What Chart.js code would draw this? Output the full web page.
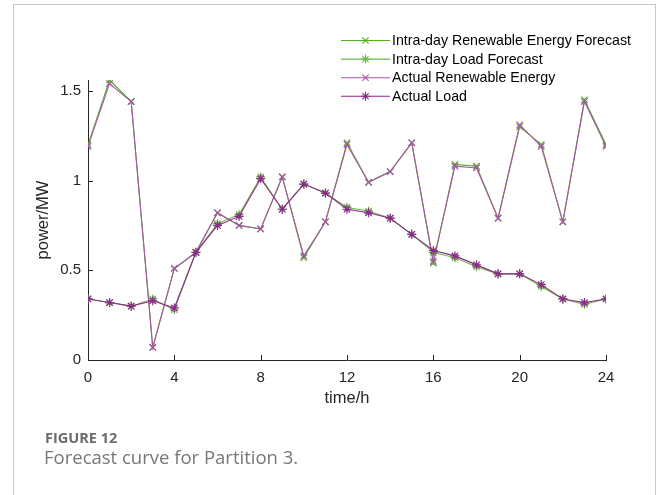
<!DOCTYPE html>
<html>
<head>
<meta charset="utf-8">
<script src="https://cdn.jsdelivr.net/npm/chart.js@4.4.1/dist/chart.umd.min.js"></script>
<style>
  body { margin: 0; background: #fff; }
  #wrap { position: relative; width: 656px; height: 495px; overflow: hidden; }
  #frame { position: absolute; left: 13px; top: 4px; width: 641px; height: 520px; border: 1px solid #c8c8c8; }
  #chart { position: absolute; left: 0; top: 0; }
  #fig { position: absolute; left: 45px; top: 428px; font-family: "Open Sans", sans-serif; font-weight: bold; font-size: 14.5px; color: #6b6b6b; }
  #cap { position: absolute; left: 44px; top: 444px; font-family: "Open Sans", sans-serif; font-size: 18.5px; color: #777; }
</style>
</head>
<body>
<div id="wrap">
  <div id="frame"></div>
  <canvas id="chart" width="656" height="495"></canvas>
  <div id="fig">FIGURE 12</div>
  <div id="cap">Forecast curve for Partition 3.</div>
</div>
<script>
var horas = [0,1,2,3,4,5,6,7,8,9,10,11,12,13,14,15,16,17,18,19,20,21,22,23,24]
var renovavelPrevisao = [1.20,1.56,1.44,0.07,0.51,0.60,0.82,0.75,0.73,1.02,0.57,0.77,1.21,0.99,1.05,1.21,0.54,1.09,1.08,0.79,1.30,1.20,0.77,1.45,1.20]
var cargaPrevisao = [0.34,0.32,0.30,0.34,0.28,0.60,0.76,0.81,1.02,0.84,0.98,0.93,0.85,0.83,0.79,0.70,0.60,0.57,0.52,0.48,0.48,0.41,0.34,0.31,0.34]
var renovavelReal = [1.19,1.54,1.44,0.07,0.51,0.60,0.82,0.75,0.73,1.02,0.58,0.77,1.20,0.99,1.05,1.21,0.55,1.08,1.07,0.79,1.31,1.19,0.77,1.44,1.19]
var cargaReal = [0.34,0.32,0.30,0.33,0.29,0.60,0.75,0.80,1.01,0.84,0.98,0.93,0.84,0.82,0.79,0.70,0.61,0.58,0.53,0.48,0.48,0.42,0.34,0.32,0.34]
var ticksX = [0,4,8,12,16,20,24]
var ticksY = [0,0.5,1,1.5]

var toPts = (arr) => arr.map((v, i) => ({x: horas[i], y: v}))

var series = [
  {label: "Intra-day Renewable Energy Forecast", data: renovavelPrevisao, cor: "#4fae22", ponto: "crossRot", ordem: 2},
  {label: "Intra-day Load Forecast", data: cargaPrevisao, cor: "#6dbb45", ponto: "star", ordem: 3},
  {label: "Actual Renewable Energy", data: renovavelReal, cor: "#a855a8", ponto: "crossRot", ordem: 1},
  {label: "Actual Load", data: cargaReal, cor: "#8b2a8b", ponto: "star", ordem: 0}
]

var datasets = series.map(s => ({
  label: s.label,
  data: toPts(s.data),
  borderColor: s.cor,
  backgroundColor: s.cor,
  borderWidth: 1.1,
  pointStyle: s.ponto,
  pointRadius: 4.5,
  pointBorderWidth: 1.2,
  pointBorderColor: s.cor,
  order: s.ordem,
  tension: 0
}))

var fonte = "'Liberation Sans', Arial, sans-serif"

// ticks pra dentro, estilo matlab
var ticksDentro = {
  id: "ticksDentro",
  afterDraw: (chart) => {
    var ctx = chart.ctx
    var x = chart.scales.x
    var y = chart.scales.y
    var a = chart.chartArea
    ctx.save()
    ctx.strokeStyle = "#262626"
    ctx.lineWidth = 1
    ctx.beginPath()
    ticksX.forEach(t => {
      var px = Math.round(x.getPixelForValue(t)) + 0.5
      ctx.moveTo(px, a.bottom)
      ctx.lineTo(px, a.bottom - 5)
    })
    ticksY.forEach(t => {
      var py = Math.round(y.getPixelForValue(t)) + 0.5
      ctx.moveTo(a.left, py)
      ctx.lineTo(a.left + 5, py)
    })
    ctx.stroke()
    ctx.restore()
  }
}

var legenda = {
  id: "legenda",
  afterDraw: (chart) => {
    var ctx = chart.ctx
    ctx.save()
    ctx.font = "14.2px " + fonte
    ctx.textBaseline = "middle"
    series.forEach((s, i) => {
      var ly = 40.5 + i * 18.6
      ctx.strokeStyle = s.cor
      ctx.lineWidth = 1.1
      ctx.beginPath()
      ctx.moveTo(341, ly)
      ctx.lineTo(390, ly)
      ctx.stroke()
      Chart.helpers.drawPoint(ctx, {pointStyle: s.ponto, radius: 4.5, borderWidth: 1.2, rotation: 0}, 365.5, ly)
      ctx.fillStyle = "#000"
      ctx.fillText(s.label, 392, ly + 0.5)
    })
    ctx.restore()
  }
}

var grafico = new Chart(document.getElementById("chart"), {
  type: "line",
  data: {datasets: datasets},
  options: {
    responsive: false,
    animation: false,
    events: [],
    layout: {padding: {left: 30, top: 80, right: 50, bottom: 85}},
    plugins: {legend: {display: false}, tooltip: {enabled: false}},
    scales: {
      x: {
        type: "linear",
        min: 0,
        max: 24,
        afterBuildTicks: (s) => { s.ticks = ticksX.map(v => ({value: v})) },
        afterFit: (s) => { s.height = 50 },
        grid: {display: false, drawTicks: false},
        border: {display: true, color: "#262626", width: 1},
        ticks: {color: "#262626", padding: 9, font: {family: fonte, size: 15}, maxRotation: 0},
        title: {display: true, text: "time/h", color: "#262626", font: {family: fonte, size: 16.5}, padding: {top: 0, bottom: 2}}
      },
      y: {
        min: 0,
        max: 1.56,
        afterBuildTicks: (s) => { s.ticks = ticksY.map(v => ({value: v})) },
        afterFit: (s) => { s.width = 58 },
        grid: {display: false, drawTicks: false},
        border: {display: true, color: "#262626", width: 1},
        ticks: {color: "#262626", padding: 7, font: {family: fonte, size: 15}, callback: (v) => String(v)},
        title: {display: true, text: "power/MW", color: "#262626", font: {family: fonte, size: 16.5}, padding: {top: 4, bottom: 0}}
      }
    }
  },
  plugins: [ticksDentro, legenda]
})
</script>
</body>
</html>
